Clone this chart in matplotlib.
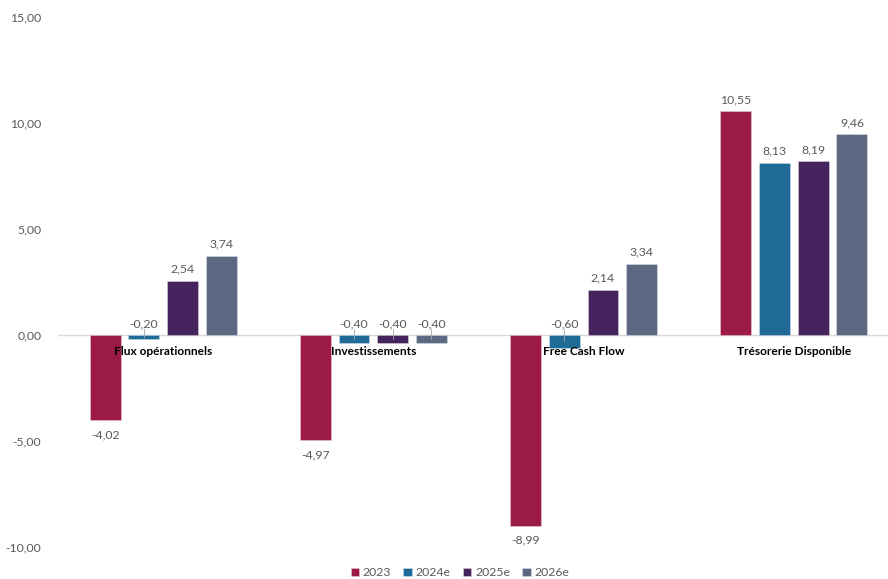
import matplotlib
matplotlib.use("Agg")
import matplotlib.pyplot as plt
import numpy as np

categories = ["Flux opérationnels", "Investissements", "Free Cash Flow", "Trésorerie Disponible"]
series_names = ["2023", "2024e", "2025e", "2026e"]
values_2023 = [-4.02, -4.97, -8.99, 10.55]
values_2024e = [-0.20, -0.40, -0.60, 8.13]
values_2025e = [2.54, -0.40, 2.14, 8.19]
values_2026e = [3.74, -0.40, 3.34, 9.46]
colors = ["#9B1B45", "#1F6A96", "#45245E", "#5D6983"]
yticks = [-10, -5, 0, 5, 10, 15]

plt.rcParams["font.family"] = ["Lato", "DejaVu Sans"]
text_color = "#595959"

fig = plt.figure(figsize=(8.88, 5.79), dpi=100)
ax = fig.add_axes([58 / 888, 32 / 579, 841 / 888, 530 / 579])

x = np.arange(len(categories))
width = 0.147
pitch = 0.184
all_series = [values_2023, values_2024e, values_2025e, values_2026e]

for i, (name, vals, col) in enumerate(zip(series_names, all_series, colors)):
    offs = (i - 1.5) * pitch
    ax.bar(x + offs, vals, width, color=col, label=name,
           edgecolor=(1, 1, 1, 0.35), linewidth=0.6, zorder=3)
    for xi, v in zip(x + offs, vals):
        label = f"{v:.2f}".replace(".", ",")
        if v >= 0:
            ax.text(xi, v + 0.3, label, ha="center", va="bottom",
                    fontsize=8.8, color=text_color)
        elif v > -1:
            # small negatives: label sits above the zero line with a short leader
            ax.text(xi, 0.28, label, ha="center", va="bottom",
                    fontsize=8.8, color=text_color)
            ax.plot([xi, xi], [v * 0.5, 0.28], color="#A6A6A6", lw=0.6, zorder=4)
        else:
            ax.text(xi, v - 0.42, label, ha="center", va="top",
                    fontsize=8.8, color=text_color)

# category labels just under the zero line
for xi, cat in zip(x, categories):
    ax.text(xi, -0.5, cat, ha="center", va="top", fontsize=8.6,
            fontweight="bold", color="black", zorder=5)

ax.axhline(0, color="#D9D9D9", lw=1.0, zorder=2)
ax.set_xlim(-0.5, len(categories) - 0.5)
ax.set_ylim(-10, 15)
ax.set_yticks(yticks)
ax.set_yticklabels([f"{t:.2f}".replace(".", ",") for t in yticks],
                   fontsize=8.8, color=text_color)
ax.tick_params(axis="y", length=0, pad=12)
ax.set_xticks([])
for s in ax.spines.values():
    s.set_visible(False)

leg = fig.legend(loc="lower center", bbox_to_anchor=(0.518, -0.018), ncol=4,
                 frameon=False, fontsize=8.8, handlelength=0.7, handleheight=0.7,
                 handletextpad=0.3, columnspacing=1.0)
for t in leg.get_texts():
    t.set_color(text_color)

fig.savefig("out.png", dpi=100)
